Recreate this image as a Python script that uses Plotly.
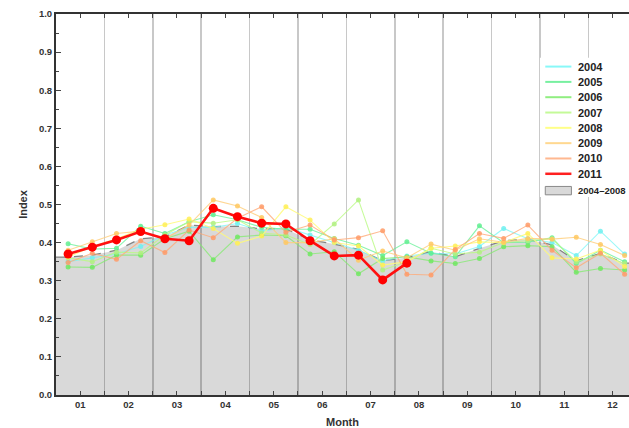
import plotly.graph_objects as go

months = ["01", "02", "03", "04", "05", "06", "07", "08", "09", "10", "11", "12"]
years = ["2004", "2005", "2006", "2007", "2008", "2009", "2010", "2011"]

v2004 = [0.350, 0.360, 0.370, 0.390, 0.420, 0.440, 0.440, 0.450, 0.430, 0.440, 0.420, 0.400,
         0.380, 0.352, 0.365, 0.372, 0.370, 0.390, 0.437, 0.410, 0.400, 0.366, 0.430, 0.370]
v2005 = [0.397, 0.383, 0.385, 0.443, 0.424, 0.455, 0.473, 0.460, 0.440, 0.435, 0.435, 0.411,
         0.393, 0.366, 0.402, 0.372, 0.363, 0.444, 0.400, 0.401, 0.413, 0.345, 0.380, 0.350]
v2006 = [0.336, 0.335, 0.367, 0.367, 0.410, 0.430, 0.355, 0.415, 0.420, 0.418, 0.370, 0.376,
         0.318, 0.358, 0.363, 0.352, 0.345, 0.358, 0.389, 0.392, 0.389, 0.322, 0.332, 0.328]
v2007 = [0.360, 0.350, 0.375, 0.373, 0.420, 0.455, 0.451, 0.460, 0.425, 0.420, 0.395, 0.449,
         0.512, 0.328, 0.350, 0.385, 0.370, 0.375, 0.400, 0.405, 0.410, 0.350, 0.370, 0.345]
v2008 = [0.362, 0.390, 0.410, 0.435, 0.447, 0.462, 0.437, 0.398, 0.417, 0.494, 0.459, 0.400,
         0.391, 0.341, 0.350, 0.385, 0.391, 0.402, 0.400, 0.424, 0.360, 0.357, 0.380, 0.337]
v2009 = [0.380, 0.402, 0.424, 0.430, 0.410, 0.446, 0.512, 0.496, 0.466, 0.400, 0.400, 0.410,
         0.354, 0.378, 0.360, 0.396, 0.380, 0.410, 0.401, 0.411, 0.409, 0.414, 0.395, 0.366]
v2010 = [0.348, 0.372, 0.356, 0.405, 0.374, 0.433, 0.413, 0.464, 0.494, 0.427, 0.446, 0.407,
         0.413, 0.431, 0.317, 0.315, 0.382, 0.424, 0.411, 0.446, 0.380, 0.334, 0.372, 0.317]
v2011 = [0.370, 0.388, 0.407, 0.429, 0.410, 0.405, 0.490, 0.468, 0.451, 0.449, 0.405, 0.365,
         0.367, 0.302, 0.346]
mean_0408 = [0.362, 0.367, 0.380, 0.410, 0.415, 0.446, 0.442, 0.443, 0.436, 0.436, 0.407, 0.396,
             0.382, 0.352, 0.361, 0.376, 0.363, 0.385, 0.405, 0.409, 0.394, 0.352, 0.372, 0.346]
mean_label = "2004–2008"

series = [v2004, v2005, v2006, v2007, v2008, v2009, v2010, v2011]
line_colors = ["rgba(120,245,245,0.75)", "rgba(100,240,150,0.75)", "rgba(130,235,110,0.75)",
               "rgba(185,250,130,0.8)", "rgba(255,250,120,0.85)", "rgba(255,205,120,0.8)",
               "rgba(255,170,120,0.8)", "#ff1010"]
legend_colors = ["#88f8f8", "#77f0a0", "#90ee80", "#c4fa98", "#ffff88", "#ffd890", "#ffb890", "#ff2020"]
marker_colors = ["#70f0f0", "#60ee90", "#70e860", "#b0f080", "#ffee55", "#ffc860", "#ff9a66", "#ff0000"]

# two half-month periods per month
xpos = [i * 0.5 + 0.25 for i in range(len(mean_0408))]

fig = go.Figure()

# 2004-2008 average as filled area (padded flat to the axis edges)
fx = [0] + xpos + [12]
fy = [mean_0408[0]] + mean_0408 + [mean_0408[-1]]
fig.add_trace(go.Scatter(
    x=fx, y=fy, mode="lines", fill="tozeroy",
    fillcolor="rgba(0,0,0,0.15)",
    line=dict(color="rgba(120,120,120,0.9)", width=1.3, dash="dash"),
    name=mean_label, showlegend=False,
))

for k, (yr, vals) in enumerate(zip(years, series)):
    is_last = yr == "2011"
    fig.add_trace(go.Scatter(
        x=xpos[:len(vals)], y=vals, mode="lines+markers", name=yr, showlegend=False,
        line=dict(color=line_colors[k], width=2.6 if is_last else 1.1),
        marker=dict(color=marker_colors[k], size=9 if is_last else 5,
                    opacity=1 if is_last else 0.85),
    ))

# hand-drawn legend (compact spacing like the original)
shapes = [dict(type="rect", xref="x", yref="y", x0=10.0, x1=12.0, y0=0.52, y1=0.885,
               fillcolor="white", line=dict(width=0), layer="between")]
annotations = []
lx0, lx1, ltx = 10.11, 10.65, 10.74
ly0, lstep = 0.862, 0.0402
for k, yr in enumerate(years):
    yy = ly0 - k * lstep
    shapes.append(dict(type="line", xref="x", yref="y", x0=lx0, x1=lx1, y0=yy, y1=yy,
                       line=dict(color=legend_colors[k], width=2.5 if yr == "2011" else 2),
                       layer="above"))
    annotations.append(dict(x=ltx, y=yy, xref="x", yref="y", text=f"<b>{yr}</b>",
                            showarrow=False, xanchor="left", yanchor="middle",
                            font=dict(family="Liberation Sans", size=11, color="#222222")))
yy = ly0 - len(years) * lstep - 0.004
shapes.append(dict(type="rect", xref="x", yref="y", x0=lx0, x1=lx1, y0=yy - 0.011, y1=yy + 0.011,
                   fillcolor="#d9d9d9", line=dict(color="#8a8a8a", width=1), layer="above"))
annotations.append(dict(x=ltx, y=yy, xref="x", yref="y", text=f"<b>{mean_label}</b>",
                        showarrow=False, xanchor="left", yanchor="middle",
                        font=dict(family="Liberation Sans", size=9.5, color="#222222")))

fig.update_layout(
    width=629, height=428,
    margin=dict(l=56, r=0, t=14, b=33),
    paper_bgcolor="white", plot_bgcolor="white",
    font=dict(family="Liberation Sans", color="#333333"),
    showlegend=False,
    shapes=shapes, annotations=annotations,
    xaxis=dict(
        range=[0, 11.84], tickmode="array",
        tickvals=[m + 0.5 for m in range(len(months))], ticktext=months,
        ticks="inside", ticklen=4, tickcolor="#444", tickwidth=1,
        showgrid=False, zeroline=False,
        showline=True, linecolor="#333333", linewidth=2, mirror="allticks",
        tickfont=dict(family="Liberation Sans", size=9.5, color="#333333", weight="bold"),
        title=dict(text="<b>Month</b>", font=dict(size=11, color="#333333"), standoff=9),
        minor=dict(tickvals=list(range(1, len(months))), ticks="inside", ticklen=4,
                   tickcolor="#444", showgrid=True, gridcolor="#c8c8c8", gridwidth=1.5),
        automargin=False,
    ),
    yaxis=dict(
        range=[0, 1.0], dtick=0.1, tickformat=".1f",
        ticks="inside", ticklen=5, tickcolor="#444", tickwidth=1,
        showgrid=False, zeroline=False,
        showline=True, linecolor="#333333", linewidth=2,
        tickfont=dict(family="Liberation Sans", size=9.5, color="#333333", weight="bold"),
        title=dict(text="<b>Index</b>", font=dict(size=11, color="#333333"), standoff=9),
        minor=dict(dtick=0.05, ticks="inside", ticklen=3, tickcolor="#444", showgrid=False),
        automargin=False,
    ),
)

fig.write_html("out.html",
               config={"displayModeBar": False, "staticPlot": True},
               post_script="document.body.style.margin='0';document.body.style.overflow='hidden';")
